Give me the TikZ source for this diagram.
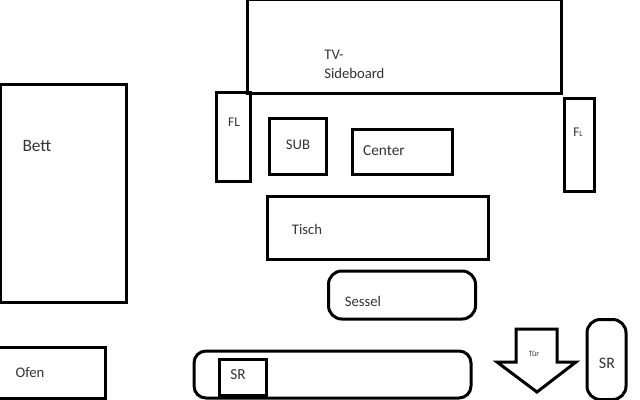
\documentclass[tikz,border=0pt]{standalone}
\usepackage{fontspec}
\setmainfont{Carlito}
\definecolor{txt}{HTML}{333333}
\tikzset{
  x=0.75pt,y=-0.75pt,
  box/.style={draw=black,line width=2.25pt,rectangle,anchor=north west,inner sep=0pt,outer sep=0pt,line join=miter},
  rbox/.style={box,rounded corners=#1},
  lab/.style={text=txt,inner sep=0pt,font=\fontsize{#1}{#1}\selectfont},
  lab/.default=11
}
\newcommand{\boxat}[6][box]{\node[#1,minimum width=#4*0.75pt,minimum height=#5*0.75pt] (#6) at (#2,#3) {};}
\begin{document}
\begin{tikzpicture}
\useasboundingbox (0,0) rectangle (640,400);
\clip (0,0) rectangle (640,400);
\boxat{247.5}{-0.5}{313.5}{93.5}{tv}
\boxat{216}{92}{34}{89}{fla}
\boxat{269}{118}{57.5}{56}{sub}
\boxat{352}{129}{100}{45}{center}
\boxat{564}{98}{30}{93}{flb}
\boxat{0}{84}{126.5}{218}{bett}
\boxat{267}{196}{221}{63}{tisch}
\boxat[rbox=10pt]{328.5}{271}{147}{48}{sessel}
\boxat[rbox=9pt]{194}{351}{277}{47}{bank}
\boxat{219}{359}{47.5}{37}{srbox}
\fill (219,393.5) rectangle (267,397);
\boxat{-2}{347}{107}{51}{ofen}
\boxat[rbox=10pt]{587}{319.5}{39}{80}{srr}
\draw[line width=2.25pt,line join=miter] (516,329) -- (557,329) -- (557,362) -- (576,362) -- (537,392) -- (497,362) -- (516,362) -- cycle;
\node[lab] (l1) at (334,54.5) {TV-};
\node[lab,anchor=west] (l2) at (324,73) {Sideboard};
\node[lab=10] (l3) at (234,122) {FL};
\node[lab] (l4) at (298,145) {SUB};
\node[lab=11.5] (l5) at (384,151) {Center};
\node[lab=11] (l6) at (307,229) {Tisch};
\node[lab=11] (l7) at (363,301) {Sessel};
\node[lab=11.5] (l8) at (238,375) {SR};
\node[lab=12] (l9) at (607,363) {SR};
\node[lab=6] (l10) at (534,354) {Tür};
\node[lab=13] (l11) at (37,146) {Bett};
\node[lab=11] (l12) at (30,373) {Ofen};
\node[lab=10] (l13) at (578,132) {F\raisebox{-0.3pt}{\fontsize{6}{6}\selectfont L}};
\end{tikzpicture}
\end{document}
